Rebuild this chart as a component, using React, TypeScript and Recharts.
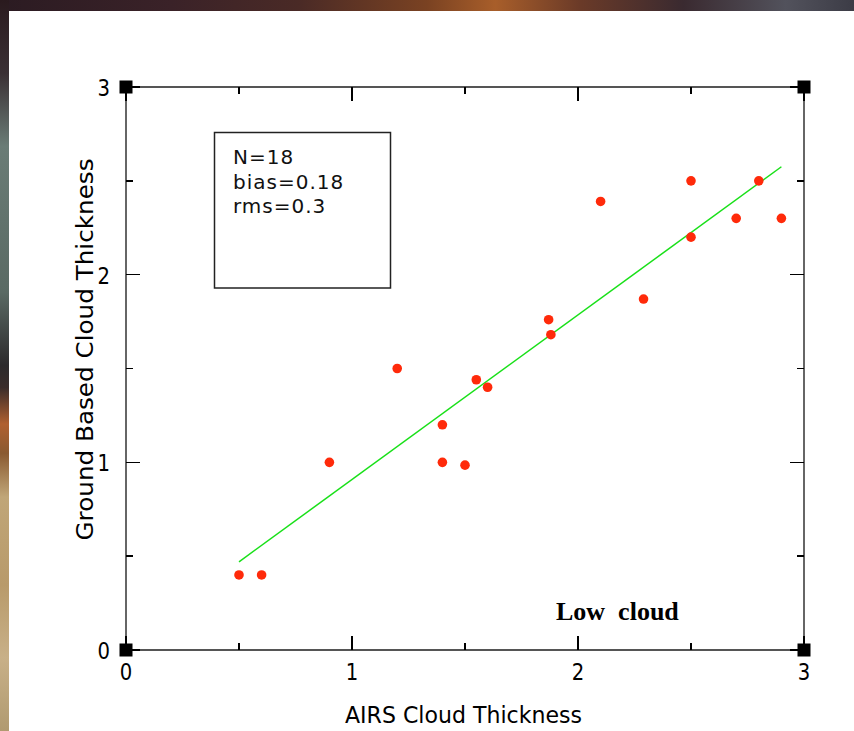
import { ReferenceDot, ReferenceLine, Scatter, ScatterChart, XAxis, YAxis } from "recharts";

// AIRS retrieved vs ground based cloud thickness, low cloud cases
const airsThickness = [0.5, 0.6, 0.9, 1.2, 1.4, 1.4, 1.5, 1.55, 1.6, 1.87, 1.88, 2.1, 2.29, 2.5, 2.5, 2.7, 2.8, 2.9];
const groundThickness = [0.4, 0.4, 1.0, 1.5, 1.2, 1.0, 0.985, 1.44, 1.4, 1.76, 1.68, 2.39, 1.87, 2.5, 2.2, 2.3, 2.5, 2.3];

// regression line end points
const fitX = [0.5, 2.9];
const fitY = [0.47, 2.575];

const axisTicks = [0, 0.5, 1, 1.5, 2, 2.5, 3];
const cornerX = [0, 3, 0, 3];
const cornerY = [0, 0, 3, 3];
const statLines = ["N=18", "bias=0.18", "rms=0.3"];

const points = airsThickness.map((x, i) => ({ x, y: groundThickness[i] }));

const FONT = "'DejaVu Sans', 'Liberation Sans', sans-serif";

type Side = "bottom" | "top" | "left" | "right";

// inward tick marks (long at integers, short at halves) plus the tick label
function FrameTick(props: any) {
  const { x, y, payload, side, labels } = props as { x: number; y: number; payload: any; side: Side; labels: boolean };
  const v = Number(payload.value);
  const major = Math.abs(v - Math.round(v)) < 1e-6;
  const len = major ? 14 : 7;
  const px = Number(x);
  const py = Number(y);
  let x2 = px;
  let y2 = py;
  if (side === "bottom") y2 = py - len;
  if (side === "top") y2 = py + len;
  if (side === "left") x2 = px + len;
  if (side === "right") x2 = px - len;
  return (
    <g>
      <path d={`M${px},${py}L${x2},${y2}`} stroke="#000" strokeWidth={1.6} fill="none" shapeRendering="crispEdges" />
      {labels && major && side === "bottom" && (
        <text x={px} y={py + 30} textAnchor="middle" fontFamily={FONT} fontSize={23} textLength={12.5} lengthAdjust="spacingAndGlyphs" fill="#000">
          {v}
        </text>
      )}
      {labels && major && side === "left" && (
        <text x={px - 16} y={py + 9} textAnchor="end" fontFamily={FONT} fontSize={23} textLength={12.5} lengthAdjust="spacingAndGlyphs" fill="#000">
          {v}
        </text>
      )}
    </g>
  );
}

function XTitle(props: any) {
  const vb = props.viewBox || { x: 126, y: 650, width: 678 };
  return (
    <text x={vb.x + vb.width / 2 - 1.5} y={vb.y + 73} textAnchor="middle" fontFamily={FONT} fontSize={23} textLength={237} lengthAdjust="spacingAndGlyphs" fill="#000">
      AIRS Cloud Thickness
    </text>
  );
}

function YTitle(props: any) {
  const vb = props.viewBox || { x: 76, y: 87, height: 563 };
  const cx = vb.x + 17;
  const cy = vb.y + vb.height / 2 - 19;
  return (
    <text x={cx} y={cy} transform={`rotate(-90 ${cx} ${cy})`} textAnchor="middle" fontFamily={FONT} fontSize={23} textLength={382} lengthAdjust="spacingAndGlyphs" fill="#000">
      Ground Based Cloud Thickness
    </text>
  );
}

const Dot = (p: any) => <circle cx={p.cx} cy={p.cy} r={4.8} fill="#ff2a0a" />;
const Corner = (p: any) => <rect x={p.cx - 6.5} y={p.cy - 6.5} width={13} height={13} fill="#000" />;
const Nothing = () => <g />;

export default function App() {
  return (
    <div style={{ position: "fixed", left: 0, top: 0, width: 854, height: 731, overflow: "hidden" }}>
      <div
        style={{
          position: "absolute", left: 0, top: 0, width: 854, height: 11,
          background: "linear-gradient(to right, #2b1b22 0%, #3a2228 20%, #4a2a26 35%, #7a4222 50%, #a85e2a 58%, #6a3a28 68%, #3a2a30 80%, #52525c 92%, #3c3c46 100%)",
        }}
      />
      <div
        style={{
          position: "absolute", left: 0, top: 0, width: 9, height: 731,
          background: "linear-gradient(to bottom, #2a1a1e 0%, #3a3034 10%, #6a7c76 20%, #5a6a64 40%, #2c2a2c 50%, #3a2c2a 53%, #b06030 58%, #8a5a30 62%, #c0a678 68%, #b89a6a 80%, #c8b088 90%, #b09a70 100%)",
        }}
      />
      <div style={{ position: "absolute", left: 9, top: 11, width: 845, height: 720, background: "#fff" }} />

      <div style={{ position: "absolute", left: 0, top: 0 }}>
        <ScatterChart width={854} height={731} margin={{ top: 86, right: 49, bottom: 51, left: 76 }}>
          <XAxis
            xAxisId={0} dataKey="x" type="number" domain={[0, 3]} ticks={axisTicks} interval={0} allowDataOverflow
            height={30} tickSize={0} tickMargin={0}
            axisLine={{ stroke: "#555", strokeWidth: 2 }}
            tick={(p: any) => <FrameTick {...p} side="bottom" labels />}
            label={{ content: (p: any) => <XTitle {...p} /> }}
          />
          <XAxis
            xAxisId="top" orientation="top" dataKey="x" type="number" domain={[0, 3]} ticks={axisTicks} interval={0} allowDataOverflow
            height={1} tickSize={0} tickMargin={0}
            axisLine={{ stroke: "#555", strokeWidth: 2 }}
            tick={(p: any) => <FrameTick {...p} side="top" labels={false} />}
          />
          <YAxis
            yAxisId={0} dataKey="y" type="number" domain={[0, 3]} ticks={axisTicks} interval={0} allowDataOverflow
            width={50} tickSize={0} tickMargin={0}
            axisLine={{ stroke: "#333", strokeWidth: 1.5 }}
            tick={(p: any) => <FrameTick {...p} side="left" labels />}
            label={{ content: (p: any) => <YTitle {...p} /> }}
          />
          <YAxis
            yAxisId="right" orientation="right" dataKey="y" type="number" domain={[0, 3]} ticks={axisTicks} interval={0} allowDataOverflow
            width={1} tickSize={0} tickMargin={0}
            axisLine={{ stroke: "#333", strokeWidth: 1.5 }}
            tick={(p: any) => <FrameTick {...p} side="right" labels={false} />}
          />
          <ReferenceLine
            segment={[{ x: fitX[0], y: fitY[0] }, { x: fitX[1], y: fitY[1] }]}
            stroke="#19e019" strokeWidth={1.5} ifOverflow="visible"
          />
          <Scatter data={points} shape={Dot} isAnimationActive={false} />
          <Scatter data={points} xAxisId="top" yAxisId="right" shape={Nothing} isAnimationActive={false} />
          {cornerX.map((cx, i) => (
            <ReferenceDot key={i} x={cx} y={cornerY[i]} ifOverflow="visible" shape={Corner} />
          ))}
        </ScatterChart>
      </div>

      <svg width={854} height={731} style={{ position: "absolute", left: 0, top: 0, pointerEvents: "none" }}>
        <rect x={214.5} y={132.5} width={176} height={155.5} fill="none" stroke="#222" strokeWidth={1.5} />
        {statLines.map((s, i) => (
          <text key={s} x={233} y={164 + i * 24.5} fontFamily={FONT} fontSize={20} letterSpacing={1} fill="#111">
            {s}
          </text>
        ))}
        <text x={556} y={620} fontFamily="'Liberation Serif', 'Times New Roman', serif" fontWeight="bold" fontSize={26} fill="#000" style={{ whiteSpace: "pre" }}>
          {"Low  cloud"}
        </text>
      </svg>
    </div>
  );
}
